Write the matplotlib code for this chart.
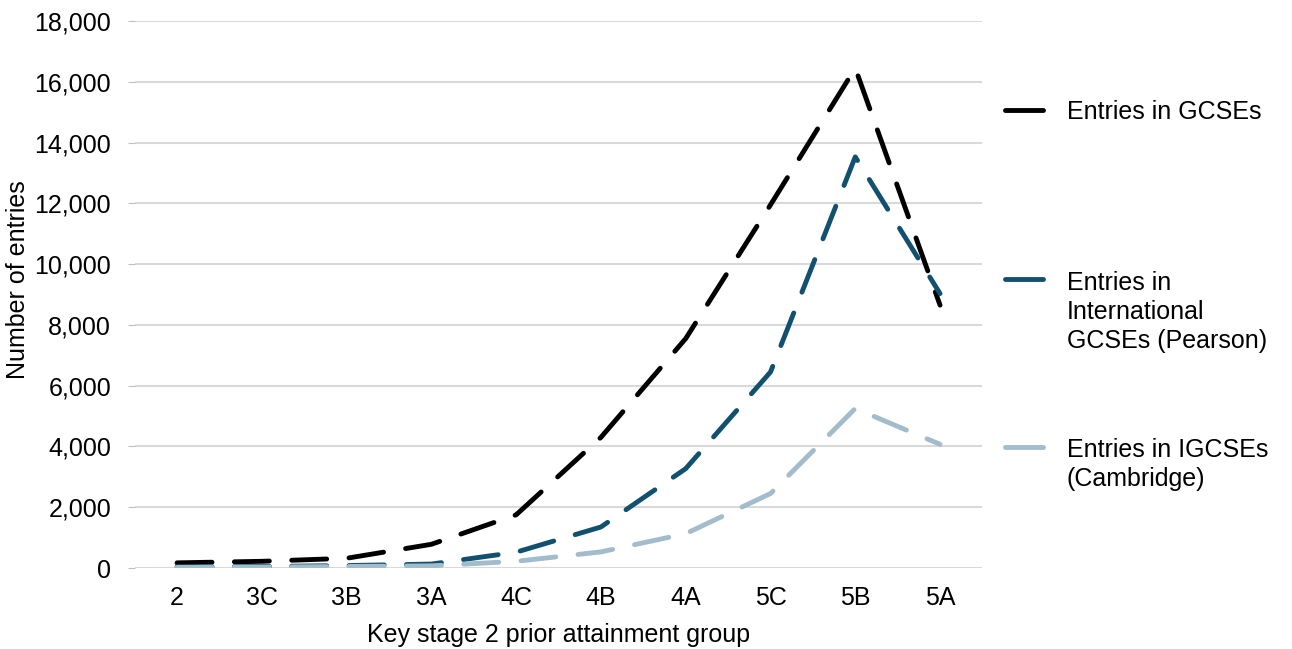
import matplotlib.pyplot as plt
from matplotlib.lines import Line2D
from matplotlib.ticker import FuncFormatter

plt.rcParams['font.family'] = ['Liberation Sans', 'DejaVu Sans']

groups = ['2', '3C', '3B', '3A', '4C', '4B', '4A', '5C', '5B', '5A']
gcse = [170, 220, 320, 780, 1750, 4300, 7550, 11950, 16450, 8650]
pearson = [40, 50, 80, 130, 520, 1350, 3270, 6450, 13530, 9030]
cambridge = [20, 30, 50, 70, 220, 530, 1130, 2450, 5250, 4070]

labels = ['Entries in GCSEs',
          'Entries in\nInternational\nGCSEs (Pearson)',
          'Entries in IGCSEs\n(Cambridge)']
colors = ['#000000', '#12506F', '#A3BCCB']

fs = 18
fig = plt.figure(figsize=(12.92, 6.49), dpi=100)
ax = fig.add_axes([0.1042, 0.1248, 0.6562, 0.8428])

x = range(len(groups))
for series, c in zip([gcse, pearson, cambridge], colors):
    ax.plot(x, series, color=c, lw=3.5, linestyle=(0, (7.2, 4.6)),
            dash_capstyle='round', solid_capstyle='round')

ax.set_xlim(-0.5, 9.5)
ax.set_ylim(0, 18000)
ax.set_yticks(range(0, 18001, 2000))
ax.yaxis.set_major_formatter(FuncFormatter(lambda v, p: f'{int(v):,}'))
ax.set_xticks(list(x))
ax.set_xticklabels(groups)
ax.grid(axis='y', color='#D9D9D9', lw=1.5)
ax.set_axisbelow(True)
for s in ax.spines.values():
    s.set_visible(False)
ax.tick_params(axis='y', length=5, color='#BFBFBF', labelsize=fs, pad=12)
ax.tick_params(axis='x', length=0, labelsize=fs, pad=13)
ax.set_ylabel('Number of entries', fontsize=fs)
ax.yaxis.set_label_coords(-0.123, 0.527)
ax.set_xlabel('Key stage 2 prior attainment group', fontsize=fs, labelpad=9)

# legend on the right
leg_y = [110, 279, 447]
line_h = 30
for lab, c, yy in zip(labels, colors, leg_y):
    fy = 1 - yy / 649
    fig.add_artist(Line2D([1005 / 1292, 1043 / 1292], [fy, fy], color=c, lw=3.5,
                          solid_capstyle='round', transform=fig.transFigure))
    n = lab.count('\n')
    fig.text(1067 / 1292, 1 - (yy + 9 + n * line_h) / 649, lab, fontsize=fs,
             va='baseline', ha='left', linespacing=1.26)

fig.savefig('out.png', dpi=100)
